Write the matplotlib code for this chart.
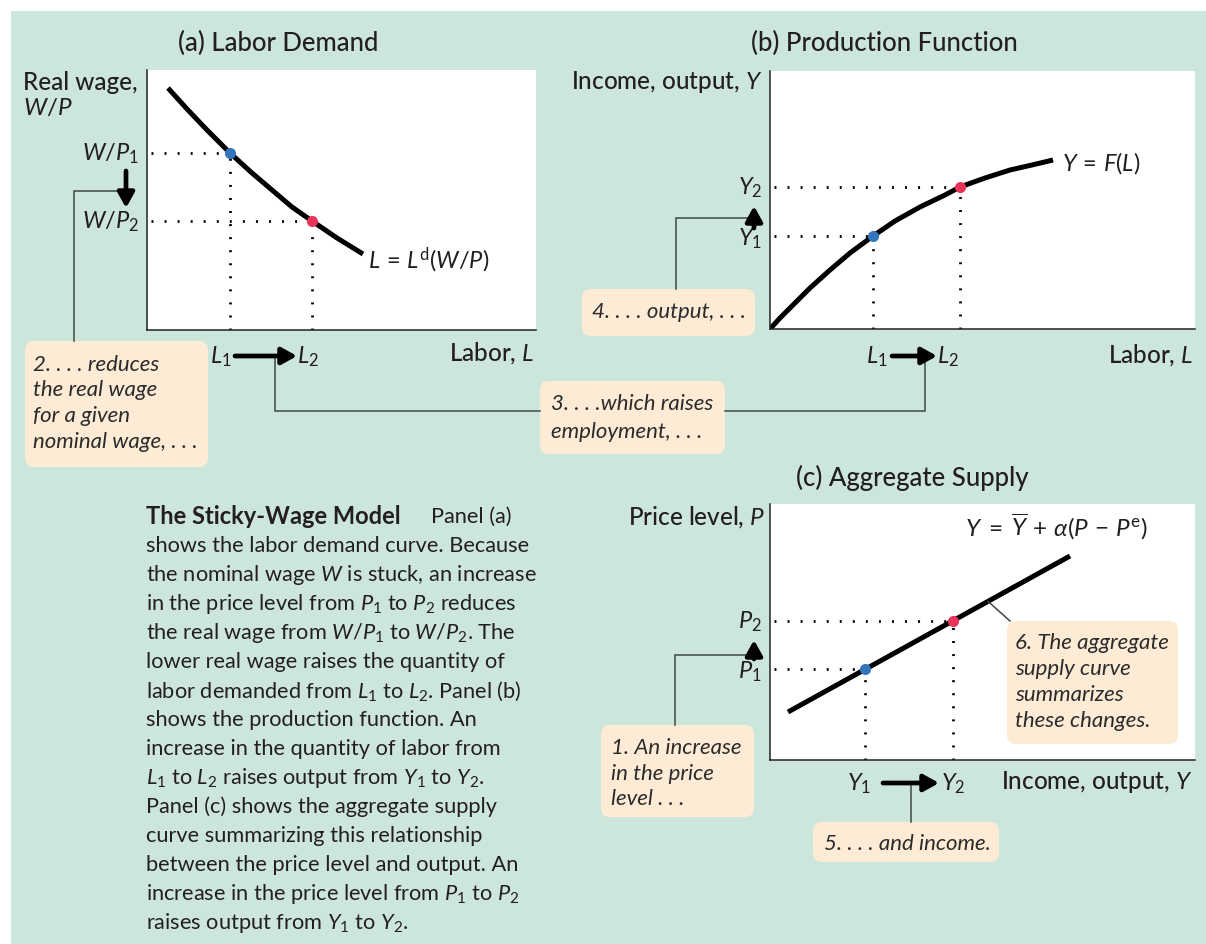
import matplotlib.pyplot as plt
from matplotlib.patches import FancyBboxPatch, Rectangle

plt.rcParams['font.family'] = ['Lato', 'DejaVu Sans']
plt.rcParams['mathtext.fontset'] = 'custom'
plt.rcParams['mathtext.rm'] = 'Lato'
plt.rcParams['mathtext.it'] = 'Lato:italic'
plt.rcParams['mathtext.bf'] = 'Lato:bold'

# (a) labor demand
labor_a = [21, 40, 60, 83, 105, 125, 145, 165, 190, 216]
wage_a = [242, 221, 200, 177, 157, 140, 123, 109, 92, 76]
L_a = [83, 165]
WP_a = [177, 109]

# (b) production function
labor_b = [0, 10, 20, 30, 40, 60, 80, 103, 125, 150, 175, 190, 215, 240, 262, 283]
output_b = [0, 11, 21, 31, 41, 59, 76, 93, 108, 122, 134, 142, 151, 159, 164, 169]
L_b = [103, 190]
Y_b = [93, 142]

# (c) aggregate supply
output_c = [18, 300]
price_c = [48, 204]
Y_c = [95, 183]
P_c = [91, 139]

caption_head = 'The Sticky-Wage Model'
caption = [
    'Panel (a)',
    'shows the labor demand curve. Because',
    'the nominal wage $W$ is stuck, an increase',
    'in the price level from $P_1$ to $P_2$ reduces',
    'the real wage from $W/P_1$ to $W/P_2$. The',
    'lower real wage raises the quantity of',
    'labor demanded from $L_1$ to $L_2$. Panel (b)',
    'shows the production function. An',
    'increase in the quantity of labor from',
    '$L_1$ to $L_2$ raises output from $Y_1$ to $Y_2$.',
    'Panel (c) shows the aggregate supply',
    'curve summarizing this relationship',
    'between the price level and output. An',
    'increase in the price level from $P_1$ to $P_2$',
    'raises output from $Y_1$ to $Y_2$.',
]

box2 = ['2. . . . reduces', 'the real wage', 'for a given', 'nominal wage, . . .']
box3 = ['3. . . .which raises', 'employment, . . .']
box4 = ['4. . . . output, . . .']
box1 = ['1. An increase', 'in the price', 'level . . .']
box5 = ['5. . . . and income.']
box6 = ['6. The aggregate', 'supply curve', 'summarizes', 'these changes.']

TEAL = '#cde6dc'
PEACH = '#fdebd5'
TXT = '#231f20'
LINE = '#3c4a45'
BLUE = '#3476bd'
RED = '#e8345a'

W, H = 1206, 945
fig = plt.figure(figsize=(W / 100, H / 100), dpi=100)

bg = fig.add_axes([0, 0, 1, 1], zorder=0)
bg.set_xlim(0, W)
bg.set_ylim(H, 0)
bg.axis('off')
bg.add_patch(Rectangle((11, 12), W - 11, H - 12, color=TEAL, lw=0))


def rect(x0, y0, x1, y1):
    return [x0 / W, 1 - y1 / H, (x1 - x0) / W, (y1 - y0) / H]


def setup(ax, w, h):
    ax.set_xlim(0, w)
    ax.set_ylim(0, h)
    ax.set_facecolor('white')
    for s in ['top', 'right']:
        ax.spines[s].set_visible(False)
    for s in ['left', 'bottom']:
        ax.spines[s].set_linewidth(1.1)
        ax.spines[s].set_color('#222222')
    ax.set_xticks([])
    ax.set_yticks([])


dot = dict(color='black', lw=2, dashes=(0.7, 4), dash_capstyle='butt')

ax_a = fig.add_axes(rect(147, 71, 536, 331), zorder=1)
setup(ax_a, 389, 260)
ax_a.plot(labor_a, wage_a, color='black', lw=3.6, solid_capstyle='butt')

ax_b = fig.add_axes(rect(770, 72, 1195, 330), zorder=1)
setup(ax_b, 425, 258)
ax_b.plot(labor_b, output_b, color='black', lw=3.6, solid_capstyle='butt')

ax_c = fig.add_axes(rect(770, 505, 1195, 761), zorder=1)
setup(ax_c, 425, 256)
ax_c.plot(output_c, price_c, color='black', lw=3.6, solid_capstyle='butt')

for ax, xs, ys in [(ax_a, L_a, WP_a), (ax_b, L_b, Y_b), (ax_c, Y_c, P_c)]:
    for x, y in zip(xs, ys):
        ax.plot([4, x], [y, y], **dot)
        ax.plot([x, x], [0, y], **dot)
    ax.plot(xs[0], ys[0], 'o', color=BLUE, ms=8, mec='none', zorder=5)
    ax.plot(xs[1], ys[1], 'o', color=RED, ms=8, mec='none', zorder=5)

ov = fig.add_axes([0, 0, 1, 1], zorder=10)
ov.set_xlim(0, W)
ov.set_ylim(H, 0)
ov.axis('off')
ov.patch.set_visible(False)


def px(ax, x, y):
    X, Y = ax.transData.transform((x, y))
    return X, H - Y


def txt(x, y, s, size=17.5, **kw):
    kw.setdefault('va', 'center')
    return ov.text(x, y, s, fontsize=size, color=TXT, **kw)


def arrow(x0, y0, x1, y1):
    ov.annotate('', xy=(x1, y1), xytext=(x0, y0),
                arrowprops=dict(arrowstyle='-|>,head_length=0.45,head_width=0.25',
                                lw=3.4, color='black', mutation_scale=20,
                                shrinkA=0, shrinkB=0))


def bracket(xs, ys):
    ov.plot(xs, ys, color=LINE, lw=1.1, solid_joinstyle='miter')


def box(x0, y0, x1, y1, lines, tx, ty, step):
    ov.add_patch(FancyBboxPatch((x0, y0), x1 - x0, y1 - y0,
                                boxstyle='round,pad=0,rounding_size=9',
                                fc=PEACH, ec='none'))
    for i, s in enumerate(lines):
        ov.text(tx, ty + i * step, s, fontsize=16, style='italic',
                color='#2b2b2b', va='center')


# titles
txt(278, 43, '(a) Labor Demand', size=18.5, ha='center', fontweight='medium')
txt(884, 43, '(b) Production Function', size=18.5, ha='center', fontweight='medium')
txt(912, 478, '(c) Aggregate Supply', size=18.5, ha='center', fontweight='medium')

# ---- panel (a)
txt(23, 82, 'Real wage,', fontweight='medium')
txt(23, 108, '$W/P$')
(x1, y1), (x2, y2) = px(ax_a, L_a[0], WP_a[0]), px(ax_a, L_a[1], WP_a[1])
txt(139, y1, '$W/P_1$', size=17, ha='right')
txt(139, y2, '$W/P_2$', size=17, ha='right')
arrow(126, y1 + 18, 126, y2 - 13)
bracket([74, 74, 121], [342, (y1 + y2) / 2 + 4, (y1 + y2) / 2 + 4])
ex, ey = px(ax_a, labor_a[-1], wage_a[-1])
txt(ex + 5, ey + 5, r'$L\,=\,L^{\mathrm{d}}(W/P)$', size=17, ha='left')
ly = 331 + 26
txt(x1 + 2, ly, '$L_1$', size=17, ha='right')
arrow(x1 + 5, ly, x2 - 15, ly)
txt(x2 - 15, ly, '$L_2$', size=17, ha='left')
txt(534, ly - 4, 'Labor, $L$', ha='right', fontweight='medium')
box(25, 342, 208, 468, box2, 33, 365, 25.5)

# bracket 3 between the panels
ma = (x1 + x2) / 2 + 4
(bx1, by1), (bx2, by2) = px(ax_b, L_b[0], Y_b[0]), px(ax_b, L_b[1], Y_b[1])
mb = (bx1 + bx2) / 2 + 8
bracket([ma, ma, 540], [ly, 412, 412])
bracket([725, mb, mb], [412, 412, ly])
box(540, 382, 725, 455, box3, 551, 404, 28)

# ---- panel (b)
txt(762, 82, 'Income, output, $Y$', ha='right', fontweight='medium')
txt(762, by1 + 2, '$Y_1$', size=17, ha='right')
txt(762, by2, '$Y_2$', size=17, ha='right')
arrow(754, by1 - 8, 754, by2 + 19)
bracket([676, 676, 750], [290, (by1 + by2) / 2 + 6, (by1 + by2) / 2 + 6])
box(582, 290, 755, 337, box4, 592, 312, 25)
ex, ey = px(ax_b, labor_b[-1], output_b[-1])
txt(ex + 9, ey + 2, r'$Y\,=\,F(L)$', size=17, ha='left')
txt(bx1 + 15, ly, '$L_1$', size=17, ha='right')
arrow(bx1 + 19, ly, bx2 - 23, ly)
txt(bx2 - 23, ly, '$L_2$', size=17, ha='left')
txt(1193, ly - 2, 'Labor, $L$', ha='right', fontweight='medium')

# ---- panel (c)
txt(765, 517, 'Price level, $P$', ha='right', fontweight='medium')
(cx1, cy1), (cx2, cy2) = px(ax_c, Y_c[0], P_c[0]), px(ax_c, Y_c[1], P_c[1])
txt(762, cy1 + 2, '$P_1$', size=17, ha='right')
txt(762, cy2, '$P_2$', size=17, ha='right')
arrow(754, cy1 - 10, 754, cy2 + 19)
bracket([675, 675, 750], [726, (cy1 + cy2) / 2 + 10, (cy1 + cy2) / 2 + 10])
box(601, 726, 754, 818, box1, 611, 748, 25.5)
txt(1056, 526, r'$Y\;=\;\overline{Y}\,+\,\alpha(P\,-\,P^{\mathrm{e}})$', size=17.5, ha='center')
lx = 218
lyy = price_c[0] + (price_c[1] - price_c[0]) * (lx - output_c[0]) / (output_c[1] - output_c[0])
lx, lyy = px(ax_c, lx, lyy)
bracket([lx, 1010], [lyy, 622])
box(1007, 622, 1178, 745, box6, 1015, 643, 26)
yy = 761 + 23
txt(cx1 + 6, yy, '$Y_1$', size=17, ha='right')
arrow(cx1 + 18, yy, cx2 - 14, yy)
txt(cx2 - 12, yy, '$Y_2$', size=17, ha='left')
txt(1192, yy - 2, 'Income, output, $Y$', ha='right', fontweight='medium')
mc = (cx1 + 18 + cx2 - 14) / 2
bracket([mc, mc], [yy, 823])
box(813, 823, 999, 863, box5, 824, 844, 25)

# caption
t = ov.text(146, 517, caption_head, fontsize=17, fontweight='bold', color=TXT, va='center')
fig.canvas.draw()
bb = t.get_window_extent()
txt(bb.x1 + 30, 517, caption[0], size=15.7, ha='left')
for i, s in enumerate(caption[1:], start=1):
    txt(146, 517 + 29 * i, s, size=15.7, ha='left')

fig.savefig('out.png', dpi=100)
